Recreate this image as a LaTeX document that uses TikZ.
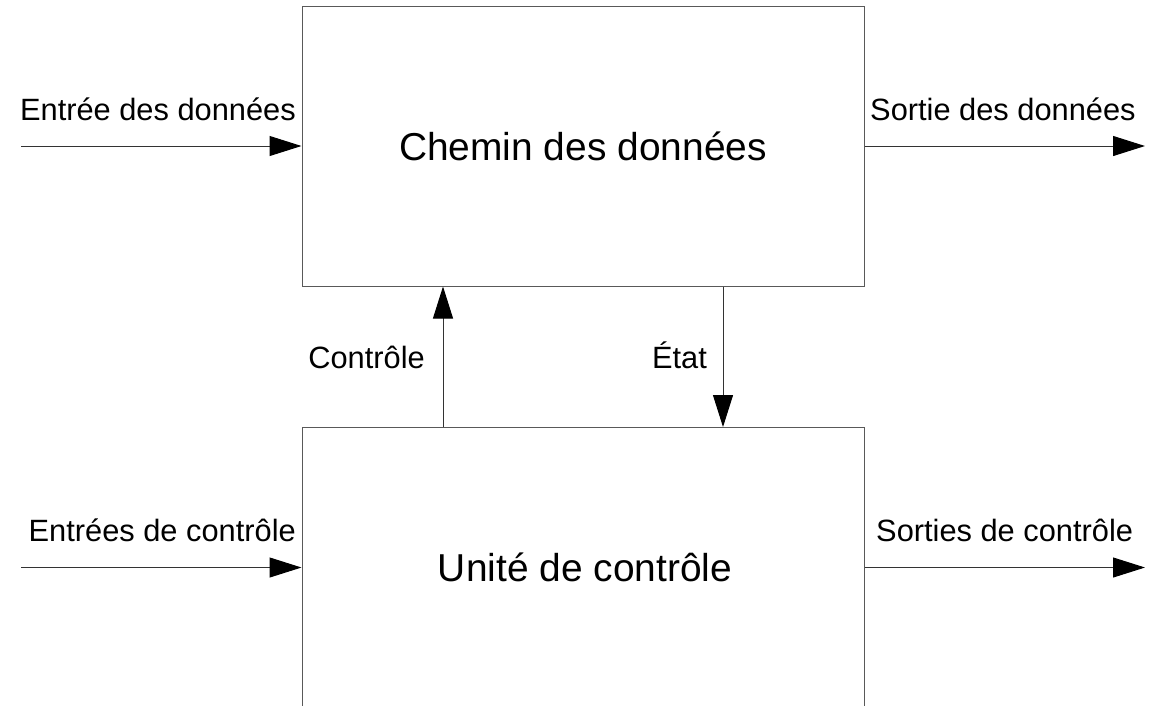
\documentclass[tikz,border=0pt]{standalone}
\usepackage{fontspec}
\setmainfont{Liberation Sans}
\usetikzlibrary{arrows.meta}
\tikzset{
  blockbox/.style={draw=black!65, line width=1pt, minimum width=562pt, minimum height=280pt, inner sep=0pt},
  bigtext/.style={inner sep=0pt, font=\fontsize{38.9}{44}\selectfont},
  lbl/.style={inner sep=0pt, font=\fontsize{30.8}{36}\selectfont},
  arr/.style={draw=black!80, line width=1pt, -{Triangle[length=32pt,width=20pt,color=black]}},
}
\begin{document}
\begin{tikzpicture}[x=1pt,y=-1pt]
\useasboundingbox (0,0) rectangle (1161,705);
\clip (0,0) rectangle (1161,705);
\node[blockbox] (chemin) at (583,146) {};
\node[blockbox] (unite) at (583,567.5) {};
\node[bigtext] (tchemin) at (583,146) {Chemin des données};
\node[bigtext] (tunite) at (585,567.5) {Unité de contrôle};
% free ends
\coordinate (in1) at (21,146);
\coordinate (out1) at (1145,146);
\coordinate (in2) at (21,567.5);
\coordinate (out2) at (1145,567.5);
\coordinate (cx) at (443,0);
\coordinate (ex) at (723,0);
% connectors
\draw[arr] (in1) -- (in1 -| chemin.west);
\draw[arr] (chemin.east |- out1) -- (out1);
\draw[arr] (in2) -- (in2 -| unite.west);
\draw[arr] (unite.east |- out2) -- (out2);
\draw[arr] (cx |- unite.north) -- (cx |- chemin.south);
\draw[arr] (ex |- chemin.south) -- (ex |- unite.north);
% labels
\node[lbl, anchor=base east] (l1) at (296,120) {Entrée des données};
\node[lbl, anchor=base west] (l2) at (870,120) {Sortie des données};
\node[lbl, anchor=base east] (l3) at (296,541) {Entrées de contrôle};
\node[lbl, anchor=base west] (l4) at (876,541) {Sorties de contrôle};
\node[lbl, anchor=base east] (l5) at (425,368) {Contrôle};
\node[lbl, anchor=base east] (l6) at (707,368) {État};
\end{tikzpicture}
\end{document}
